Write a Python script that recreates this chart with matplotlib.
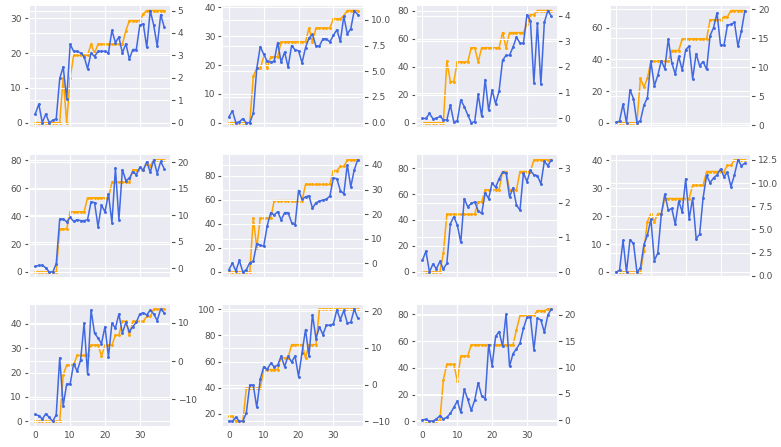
import matplotlib
matplotlib.use("Agg")
import matplotlib.pyplot as plt
import seaborn as sns

# values, 38 steps per panel (x = 0..37)
blue_1 = [2.6, 5.3, 0, 2.5, 0, 0.7, 1.1, 12.7, 16, 6.8, 22.5, 20.5, 20.5, 20, 19, 15.5, 20, 19, 20.5, 20.5,
          20.5, 20, 26.5, 23, 24.6, 20, 22.7, 18.3, 21, 21, 28, 28.4, 21.6, 32.2, 28, 22, 31, 27.5]
orange_1 = [0, 0, 0, 0, 0, 0, 0, 0, 2, 0, 2, 3, 3, 3, 3, 3, 3.5, 3.1, 3.5, 3.5,
            3.5, 3.5, 3.5, 3.5, 3.5, 3.5, 4.1, 4.55, 4.55, 4.55, 4.55, 4.85, 5, 5, 5, 5, 5, 5]

blue_2 = [2.0, 4.1, 0, 0.3, 1.4, 0, 0, 3.3, 18.8, 26.4, 23.7, 21.3, 21, 21.3, 27.8, 21, 24.5, 19.3, 26.7, 25.3,
          24.9, 20.8, 26, 29.4, 30.6, 26.6, 26.6, 29.1, 29.1, 28, 30.3, 32.2, 28.2, 36.9, 30.8, 32.6, 38.9, 37.5]
orange_2 = [0, 0, 0, 0, 0, 0, 0, 4.5, 5.3, 5.3, 6.4, 5.3, 6.4, 6.4, 6.4, 7.85, 7.85, 7.85, 7.85, 7.85,
            7.85, 7.85, 7.85, 9.2, 7.85, 9.2, 9.2, 9.2, 9.2, 9.2, 10.1, 10.1, 10.1, 10.4, 10.9, 10.9, 10.9, 10.9]

blue_3 = [3, 3, 6.6, 2.8, 3, 4.5, 2.1, 1.9, 12.7, 0.5, 1.4, 16.2, 11.5, 5.6, 0, 0.7, 20.2, 4.5, 30.8, 8.7,
          23.3, 13.6, 22.6, 44.5, 48, 48, 54, 61, 56.7, 56.7, 77, 72.7, 28.5, 70.8, 27.5, 71.5, 80, 76]
orange_3 = [-0.17, -0.17, -0.17, -0.17, -0.17, -0.17, -0.17, 2.22, 1.43, 1.43, 2.2, 2.2, 2.2, 2.2, 2.75, 2.75,
            2.2, 2.75, 2.75, 2.75, 2.75, 2.75, 2.75, 3.34, 2.75, 3.34, 3.34, 3.34, 3.34, 3.34,
            3.66, 4.04, 4.04, 4.2, 4.2, 4.2, 4.2, 4.2]

blue_4 = [0.2, 1, 11.7, 0, 20.7, 15.2, 0, 1.3, 11, 15.7, 38.8, 23.2, 30, 39.2, 34, 52.8, 37.8, 30.7, 41.8, 33.2,
          46.1, 48.4, 27.6, 43.6, 35.9, 38.6, 33.6, 54.9, 60, 69.3, 48.9, 48.9, 61.6, 62, 63.3, 48.4, 57.8, 70.8]
orange_4 = [0.45, 0.45, 0.45, 0.45, 0.45, 0.45, 0.45, 8.1, 6.55, 8.1, 11.05, 11.05, 11.05, 11.05, 11.05, 11.05,
            12.9, 12.9, 12.9, 14.9, 14.9, 14.9, 14.9, 14.9, 14.9, 14.9, 14.9, 18.2, 18.2, 18.2, 18.2,
            18.75, 18.75, 19.8, 19.8, 19.8, 19.8, 19.8]

blue_5 = [4, 4.7, 4.7, 3, 0, 0, 5.9, 37.9, 37.9, 35.8, 39, 36.2, 37.4, 36.7, 36.7, 37.4, 50.1, 49.6, 32.5, 47.8,
          43, 55.8, 35.3, 74.4, 37.2, 73.2, 65.4, 67, 71.8, 69.6, 74.8, 72.9, 78.8, 71.3, 80.2, 70.4, 79, 73.9]
orange_5 = [-0.75, -0.75, -0.75, -0.75, -0.75, -0.75, -0.75, 7.4, 7.4, 7.4, 10.65, 10.65, 10.65, 10.65, 10.65,
            13.3, 13.3, 13.3, 13.3, 13.3, 13.3, 13.3, 16.25, 16.25, 16.25, 16.25, 16.25, 16.25,
            18.6, 18.6, 18.6, 18.6, 19.8, 19.4, 20.5, 20.5, 20.5, 20.5]

blue_6 = [1.9, 7.4, 0.8, 9.6, 0, 1.9, 7.7, 9, 23.6, 22.2, 21.4, 38.4, 49.3, 47.4, 50.1, 43.3, 49.3, 49.3, 41.1, 39.2,
          67.7, 60.3, 62.5, 63.3, 52.9, 57.5, 58.9, 59.7, 60.5, 63, 78.1, 77.5, 67.7, 64.9, 89, 70.7, 84.9, 93.2]
orange_6 = [-3.5, -3.5, -3.5, -3.5, -3.5, -3.5, -3.5, 18.3, 6.3, 18.3, 18.3, 18.3, 18.3, 25.5, 25.5, 25.5,
            25.5, 25.5, 25.5, 25.5, 25.5, 25.5, 32.1, 32.1, 32.1, 32.1, 32.1, 32.1, 32.1, 32.1,
            37.7, 37.7, 39.4, 39.4, 42.1, 42.1, 42.1, 42.1]

blue_7 = [9.1, 16, 0, 6.1, 2.5, 8.1, 2.3, 6.6, 37, 42.5, 36.2, 22.8, 56.5, 50.1, 52.7, 53.9, 47.1, 45, 60.8, 56.5,
          68.6, 65.1, 71.6, 76.7, 76.2, 57.7, 64.8, 51.4, 47.6, 76.2, 69.6, 78.2, 74.7, 74.2, 67.8, 85.1, 81.8, 86.3]
orange_7 = [0, 0, 0, 0, 0, 0, 0.55, 1.67, 1.67, 1.67, 1.67, 1.67, 1.67, 1.67, 1.67, 1.67, 2.03, 2.03,
            2.38, 2.38, 2.38, 2.38, 2.38, 2.91, 2.91, 2.38, 2.38, 2.38, 2.91, 2.91, 2.91, 2.91,
            3.25, 3.25, 3.25, 3.25, 3.25, 3.25]

blue_8 = [0, 0.6, 11.3, 0, 11.5, 10.2, 0, 1.4, 9.8, 13.1, 18.9, 4.1, 6.8, 20.7, 27.8, 22.1, 22.7, 17.1, 25.3, 21.5,
          33.3, 18.9, 26.5, 11.9, 13.5, 26.5, 34.5, 31.9, 33.6, 34.7, 36.8, 34.1, 35.6, 30.5, 34.7, 40.1, 38, 38.9]
orange_8 = [0.42, 0.42, 0.42, 0.42, 0.42, 0.42, 0.42, 0.42, 2.7, 5.85, 6.7, 5.85, 6.7, 6.7, 8.33, 8.33, 8.33,
            8.33, 8.33, 8.33, 8.33, 8.33, 9.75, 9.75, 9.75, 9.75, 11.24, 11.24, 11.24, 11.24, 11.24, 11.24,
            11.9, 11.9, 12.5, 12.5, 12.5, 12.5]

blue_9 = [2.8, 2.3, 0.9, 3.1, 1.6, 0, 2.7, 26.1, 6.4, 15.3, 15.3, 23.7, 20.6, 25.1, 40.3, 19.3, 45.7, 36.2, 34.2,
          31.9, 38.9, 26.5, 40.3, 38.3, 44.1, 36.2, 40.7, 36.9, 38.9, 40.7, 44.1, 44.6, 43.7, 45.7, 44.1, 41.4,
          46.1, 44.6]
orange_9 = [-15.7, -15.7, -15.7, -15.7, -15.7, -15.7, -15.7, -15.7, -3.7, -1.0, -1.0, -1.0, 1.5, 1.5, 1.5, 1.5,
            4.2, 4.2, 4.2, 1.4, 4.2, 4.2, 4.2, 6.8, 6.8, 10.4, 10.4, 6.8, 10.4, 10.4, 10.4, 10.4,
            11.7, 11.7, 13.6, 13.6, 13.6, 13.6]

blue_10 = [14.4, 14.4, 17.5, 14.4, 14.4, 20.8, 42.2, 41.9, 25, 46.5, 56.1, 54.1, 58.6, 56.1, 57.1, 64.2, 56.1,
           64.2, 59.6, 64.2, 48.5, 66.7, 84.4, 64.2, 95.8, 77.5, 86.4, 80.6, 87.7, 87.7, 88.6, 99.5, 91.9, 99,
           89.4, 89.9, 100, 93.2]
orange_10 = [-8.6, -8.6, -10, -10, -10, -1, -1, -1, -1, -1, 4.1, 4.1, 4.1, 4.1, 4.1, 7.3, 7.3, 7.3, 10.9, 10.9,
             10.9, 10.9, 7.3, 10.9, 10.9, 10.9, 20.6, 20.6, 20.6, 20.6, 20.6, 20.6, 20.6, 20.6, 20.6, 20.6,
             20.6, 20.6]

blue_11 = [1, 1.5, 0, 0.2, 1.7, 4.2, 1.7, 3, 5.9, 10.4, 15.1, 6.7, 24, 16.5, 8.1, 15.8, 28.9, 19, 17, 57.3,
           41.7, 63.5, 67.2, 56, 80.2, 41.2, 50.6, 54.3, 58.5, 69.6, 77.8, 77.8, 53.6, 77.3, 75.8, 66.7, 79.5, 84]
orange_11 = [-0.2, -0.2, -0.2, -0.2, -0.2, 0, 7.7, 10.6, 10.6, 10.6, 7.5, 12.2, 12.2, 12.2, 14.3, 14.3, 14.3,
             14.3, 14.3, 14.3, 14.3, 14.3, 14.3, 14.3, 14.3, 14.3, 14.3, 17.2, 19.9, 19.9, 19.9, 19.9,
             19.9, 20.8, 20.8, 20.8, 21.1, 21.1]

blues = [blue_1, blue_2, blue_3, blue_4, blue_5, blue_6, blue_7, blue_8, blue_9, blue_10, blue_11]
oranges = [orange_1, orange_2, orange_3, orange_4, orange_5, orange_6, orange_7, orange_8, orange_9,
           orange_10, orange_11]

left_ticks = [[0, 10, 20, 30], [0, 10, 20, 30, 40], [0, 20, 40, 60, 80], [0, 20, 40, 60],
              [0, 20, 40, 60, 80], [0, 20, 40, 60, 80], [0, 20, 40, 60, 80], [0, 10, 20, 30, 40],
              [0, 10, 20, 30, 40], [20, 40, 60, 80, 100], [0, 20, 40, 60, 80]]
right_ticks = [[0, 1, 2, 3, 4, 5], [0, 2.5, 5, 7.5, 10], [0, 1, 2, 3, 4], [0, 5, 10, 15, 20],
               [0, 5, 10, 15, 20], [0, 10, 20, 30, 40], [0, 1, 2, 3], [0, 2.5, 5, 7.5, 10, 12.5],
               [-10, 0, 10], [-10, 0, 10, 20], [0, 5, 10, 15, 20]]
x_ticks = [0, 10, 20, 30]

sns.set_theme(style="darkgrid")
plt.rcParams['font.family'] = ['DejaVu Sans']
plt.rcParams['grid.linewidth'] = 0.8

fig, axes = plt.subplots(3, 4, figsize=(7.81, 4.47), dpi=100, sharex=True)
fig.subplots_adjust(left=0.037, right=0.962, top=0.989, bottom=0.045, wspace=0.366, hspace=0.21)

for k, ax in enumerate(axes.flat):
    if k >= len(blues):
        ax.axis("off")
        continue
    xs = list(range(len(blues[k])))
    ax2 = ax.twinx()
    # left axes sits on top of the twin, so the blue line covers the orange one
    ax.set_zorder(ax2.get_zorder() + 1)
    ax.patch.set_visible(False)
    ax2.patch.set_visible(True)
    ax2.patch.set_facecolor("#EAEAF2")
    ax.plot(xs, blues[k], color="royalblue", lw=1.1, marker=".", ms=2.2)
    ax2.plot(xs, oranges[k], color="orange", lw=1.1, marker=".", ms=2.2)
    ax.set_yticks(left_ticks[k])
    ax2.set_yticks(right_ticks[k])
    ax.set_xticks(x_ticks)
    ax.tick_params(axis="y", left=True, length=3, width=0.8, color="0.3", labelsize=6.5, pad=2, labelcolor="0.3")
    ax2.tick_params(axis="y", right=True, length=3, width=0.8, color="0.3", labelsize=6.5, pad=2, labelcolor="0.3")
    ax.tick_params(axis="x", length=0, labelsize=6.5, pad=3, labelcolor="0.3")
    if k >= 8:
        ax.xaxis.set_tick_params(labelbottom=True)

fig.savefig("out.png", dpi=100)
